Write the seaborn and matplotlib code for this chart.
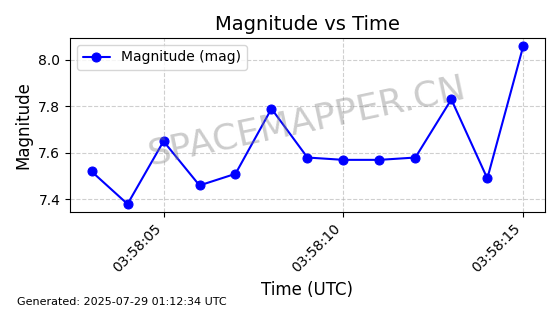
import matplotlib
matplotlib.use("Agg")
import matplotlib.pyplot as plt
import matplotlib.dates as mdates
import seaborn as sns
import pandas as pd

times = ["2025-07-29 03:58:03", "2025-07-29 03:58:04", "2025-07-29 03:58:05",
         "2025-07-29 03:58:06", "2025-07-29 03:58:07", "2025-07-29 03:58:08",
         "2025-07-29 03:58:09", "2025-07-29 03:58:10", "2025-07-29 03:58:11",
         "2025-07-29 03:58:12", "2025-07-29 03:58:13", "2025-07-29 03:58:14",
         "2025-07-29 03:58:15"]
magnitudes = [7.52, 7.38, 7.65, 7.46, 7.51, 7.79, 7.58, 7.57, 7.57, 7.58, 7.83, 7.49, 8.06]

df = pd.DataFrame({"time": pd.to_datetime(times), "mag": magnitudes})

sns.set_style("ticks", rc={"text.color": "black", "axes.labelcolor": "black",
                           "xtick.color": "black", "ytick.color": "black",
                           "axes.edgecolor": "black", "grid.color": "#b0b0b0"})
plt.rcParams['font.family'] = ['DejaVu Sans']

fig = plt.figure(figsize=(5.6, 3.14), dpi=100)
ax = fig.add_axes([0.125, 0.325, 0.848, 0.554])

sns.lineplot(data=df, x="time", y="mag", ax=ax, color="blue", marker="o",
             markersize=6.5, markeredgecolor="blue", linewidth=1.5,
             label="Magnitude (mag)")

ax.set_title("Magnitude vs Time", fontsize=14)
ax.set_xlabel("Time (UTC)", fontsize=12)
ax.set_ylabel("Magnitude", fontsize=12)
ax.grid(True, linestyle="--", alpha=0.6)
ax.xaxis.set_major_locator(mdates.SecondLocator(bysecond=range(0, 60, 5)))
ax.xaxis.set_major_formatter(mdates.DateFormatter("%H:%M:%S"))
plt.setp(ax.get_xticklabels(), rotation=45, ha="right")
ax.tick_params(labelsize=10)
ax.legend(loc="upper left", fontsize=10)

ax.text(0.5, 0.52, "SPACEMAPPER.CN", transform=ax.transAxes, fontsize=26,
        color="gray", alpha=0.4, rotation=12, ha="center", va="center")
fig.text(0.03, 0.03, "Generated: 2025-07-29 01:12:34 UTC", fontsize=8)

fig.savefig("out.png", dpi=100)
